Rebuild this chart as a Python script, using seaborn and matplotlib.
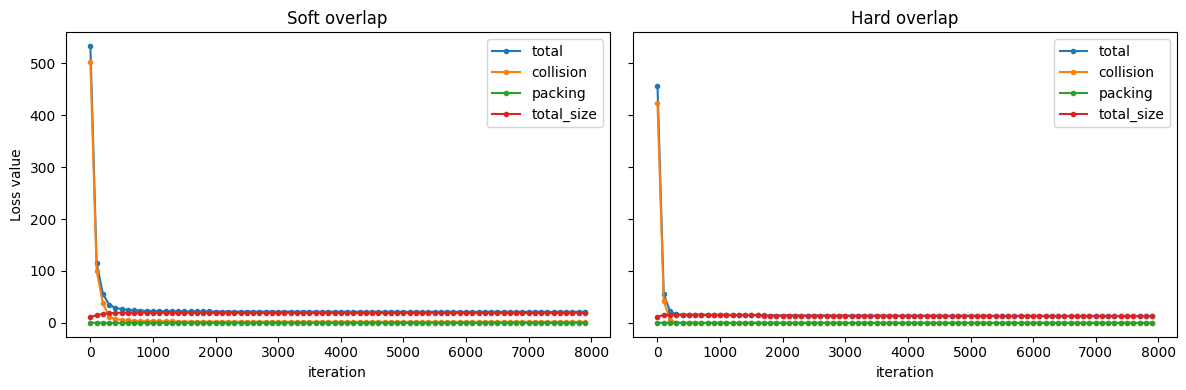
import numpy as np
import pandas as pd
import seaborn as sns
import matplotlib.pyplot as plt

# iterations logged every 100 steps
iterations = np.arange(0, 8000, 100)

soft_total = [533, 115, 56, 35, 29, 26.5, 25, 24.2, 23.6, 23.2,
              22.9, 22.7, 22.5, 22.4, 22.3, 22.2, 22.1, 22.1, 22.0, 22.0,
              21.9, 21.9, 21.9, 21.8, 21.8, 21.8, 21.8, 21.7, 21.7, 21.7,
              21.7, 21.7, 21.6, 21.6, 21.6, 21.6, 21.6, 21.6, 21.6, 21.5,
              21.5, 21.5, 21.5, 21.5, 21.5, 21.5, 21.5, 21.5, 21.4, 21.4,
              21.4, 21.4, 21.4, 21.4, 21.4, 21.4, 21.4, 21.4, 21.4, 21.4,
              21.3, 21.3, 21.3, 21.3, 21.3, 21.3, 21.3, 21.3, 21.3, 21.3,
              21.3, 21.3, 21.3, 21.3, 21.3, 21.3, 21.3, 21.3, 21.3, 21.3]
soft_collision = [503, 100, 38, 12, 7.5, 5.6, 4.6, 4.0, 3.6, 3.3,
                  3.1, 2.9, 2.8, 2.7, 2.6, 2.6, 2.5, 2.5, 2.4, 2.4,
                  2.4, 2.4, 2.3, 2.3, 2.3, 2.3, 2.3, 2.3, 2.2, 2.2,
                  2.2, 2.2, 2.2, 2.2, 2.2, 2.2, 2.2, 2.1, 2.1, 2.1,
                  2.1, 2.1, 2.1, 2.1, 2.1, 2.1, 2.1, 2.1, 2.1, 2.0,
                  2.0, 2.0, 2.0, 2.0, 2.0, 2.0, 2.0, 2.0, 2.0, 2.0,
                  2.0, 2.0, 2.0, 2.0, 2.0, 2.0, 2.0, 2.0, 2.0, 2.0,
                  2.0, 2.0, 2.0, 2.0, 2.0, 2.0, 2.0, 2.0, 2.0, 2.0]
soft_packing = [0.4, 0.2, 0.1, 0.1, 0.1, 0.1, 0.1, 0.1, 0.1, 0.1,
                0.1, 0.1, 0.1, 0.1, 0.1, 0.1, 0.1, 0.1, 0.1, 0.1,
                0.1, 0.1, 0.1, 0.1, 0.1, 0.1, 0.1, 0.1, 0.1, 0.1,
                0.1, 0.1, 0.1, 0.1, 0.1, 0.1, 0.1, 0.1, 0.1, 0.1,
                0.1, 0.1, 0.1, 0.1, 0.1, 0.1, 0.1, 0.1, 0.1, 0.1,
                0.1, 0.1, 0.1, 0.1, 0.1, 0.1, 0.1, 0.1, 0.1, 0.1,
                0.1, 0.1, 0.1, 0.1, 0.1, 0.1, 0.1, 0.1, 0.1, 0.1,
                0.1, 0.1, 0.1, 0.1, 0.1, 0.1, 0.1, 0.1, 0.1, 0.1]
soft_size = [11.5, 14.6, 17.2, 18.6, 19.3, 19.6, 19.7, 19.8, 19.8, 19.8,
             19.7, 19.7, 19.6, 19.6, 19.6, 19.5, 19.5, 19.5, 19.5, 19.5,
             19.4, 19.4, 19.5, 19.4, 19.4, 19.4, 19.4, 19.3, 19.4, 19.4,
             19.4, 19.4, 19.3, 19.3, 19.3, 19.3, 19.3, 19.4, 19.4, 19.3,
             19.3, 19.3, 19.3, 19.3, 19.3, 19.3, 19.3, 19.3, 19.2, 19.3,
             19.3, 19.3, 19.3, 19.3, 19.3, 19.3, 19.3, 19.3, 19.3, 19.3,
             19.2, 19.2, 19.2, 19.2, 19.2, 19.2, 19.2, 19.2, 19.2, 19.2,
             19.2, 19.2, 19.2, 19.2, 19.2, 19.2, 19.2, 19.2, 19.2, 19.2]

hard_total = [456, 56, 22, 16.2, 15.8, 15.7, 15.6, 15.6, 15.5, 15.5,
              15.4, 15.4, 15.4, 15.3, 15.3, 15.2, 15.1, 14.3, 14.2, 14.2,
              14.1, 14.1, 14.1, 14.0, 14.0, 14.0, 14.0, 13.9, 13.9, 13.9,
              13.9, 13.8, 13.8, 13.8, 13.8, 13.8, 13.7, 13.7, 13.7, 13.7,
              13.7, 13.6, 13.6, 13.6, 13.6, 13.6, 13.6, 13.5, 13.5, 13.5,
              13.5, 13.5, 13.5, 13.5, 13.4, 13.4, 13.4, 13.4, 13.4, 13.4,
              13.4, 13.4, 13.3, 13.3, 13.3, 13.3, 13.3, 13.3, 13.3, 13.3,
              13.3, 13.3, 13.2, 13.2, 13.2, 13.2, 13.2, 13.2, 13.2, 13.2]
hard_collision = [423, 42, 6, 0.6, 0.3, 0.2, 0.2, 0.1, 0.1, 0.1,
                  0.1, 0.1, 0.1, 0.1, 0.1, 0.1, 0.1, 0.1, 0.1, 0.1,
                  0.1, 0.1, 0.1, 0.1, 0.1, 0.1, 0.1, 0.1, 0.1, 0.1,
                  0.1, 0.1, 0.1, 0.1, 0.1, 0.1, 0.1, 0.1, 0.1, 0.1,
                  0.1, 0.1, 0.1, 0.1, 0.1, 0.1, 0.1, 0.1, 0.1, 0.1,
                  0.1, 0.1, 0.1, 0.1, 0.1, 0.1, 0.1, 0.1, 0.1, 0.1,
                  0.1, 0.1, 0.1, 0.1, 0.1, 0.1, 0.1, 0.1, 0.1, 0.1,
                  0.1, 0.1, 0.1, 0.1, 0.1, 0.1, 0.1, 0.1, 0.1, 0.1]
hard_packing = [0.3, 0.1, 0.1, 0.0, 0.0, 0.0, 0.0, 0.0, 0.0, 0.0,
                0.0, 0.0, 0.0, 0.0, 0.0, 0.0, 0.0, 0.0, 0.0, 0.0,
                0.0, 0.0, 0.0, 0.0, 0.0, 0.0, 0.0, 0.0, 0.0, 0.0,
                0.0, 0.0, 0.0, 0.0, 0.0, 0.0, 0.0, 0.0, 0.0, 0.0,
                0.0, 0.0, 0.0, 0.0, 0.0, 0.0, 0.0, 0.0, 0.0, 0.0,
                0.0, 0.0, 0.0, 0.0, 0.0, 0.0, 0.0, 0.0, 0.0, 0.0,
                0.0, 0.0, 0.0, 0.0, 0.0, 0.0, 0.0, 0.0, 0.0, 0.0,
                0.0, 0.0, 0.0, 0.0, 0.0, 0.0, 0.0, 0.0, 0.0, 0.0]
hard_size = [11.6, 15.4, 15.8, 15.6, 15.5, 15.5, 15.4, 15.5, 15.4, 15.4,
             15.3, 15.3, 15.3, 15.2, 15.2, 15.1, 15.0, 14.2, 14.1, 14.1,
             14.0, 14.0, 14.0, 13.9, 13.9, 13.9, 13.9, 13.8, 13.8, 13.8,
             13.8, 13.7, 13.7, 13.7, 13.7, 13.7, 13.6, 13.6, 13.6, 13.6,
             13.6, 13.5, 13.5, 13.5, 13.5, 13.5, 13.5, 13.4, 13.4, 13.4,
             13.4, 13.4, 13.4, 13.4, 13.3, 13.3, 13.3, 13.3, 13.3, 13.3,
             13.3, 13.3, 13.2, 13.2, 13.2, 13.2, 13.2, 13.2, 13.2, 13.2,
             13.2, 13.2, 13.1, 13.1, 13.1, 13.1, 13.1, 13.1, 13.1, 13.1]

series_names = ["total", "collision", "packing", "total_size"]
panels = {
    "Soft overlap": [soft_total, soft_collision, soft_packing, soft_size],
    "Hard overlap": [hard_total, hard_collision, hard_packing, hard_size],
}

colors = sns.color_palette("tab10", 4)

fig, axes = plt.subplots(1, 2, figsize=(12, 4), dpi=100, sharey=True)

for ax, (title, values) in zip(axes, panels.items()):
    for name, vals, c in zip(series_names, values, colors):
        df = pd.DataFrame({"iteration": iterations, "loss": vals})
        sns.lineplot(data=df, x="iteration", y="loss", ax=ax, color=c,
                     marker="o", markersize=3, markeredgewidth=1,
                     markeredgecolor=c, linewidth=1.5, label=name)
    ax.set_title(title)
    ax.set_xlabel("iteration")
    ax.legend(loc="upper right")

axes[0].set_ylabel("Loss value")
axes[1].set_ylabel("")

plt.tight_layout()
plt.savefig("out.png", dpi=100, bbox_inches="tight")
